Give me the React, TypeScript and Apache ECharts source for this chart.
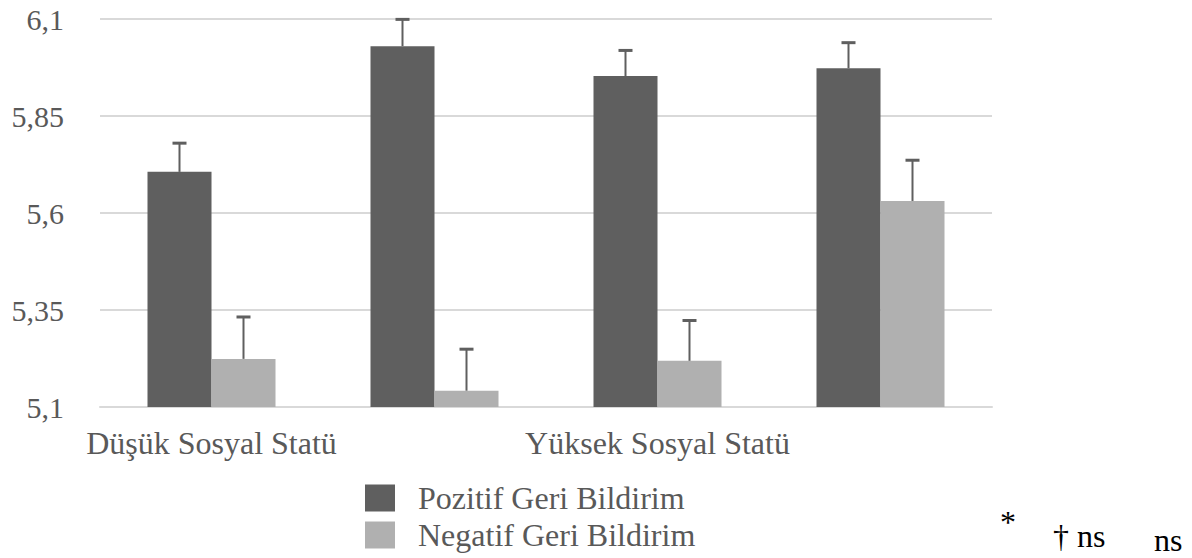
import React, { useEffect, useRef } from "react";
import * as echarts from "echarts";

// ---- data ----
const CATEGORY_KEYS = ["dusuk-a", "dusuk-b", "yuksek-a", "yuksek-b"];
const CATEGORY_LABELS = ["Düşük Sosyal Statü", "", "Yüksek Sosyal Statü", ""];
const SERIES_NAMES = ["Pozitif Geri Bildirim", "Negatif Geri Bildirim"];
const POZITIF_MEANS = [5.706, 6.03, 5.953, 5.973];
const POZITIF_ERRORS = [0.074, 0.069, 0.066, 0.066];
const NEGATIF_MEANS = [5.224, 5.142, 5.219, 5.631];
const NEGATIF_ERRORS = [0.108, 0.107, 0.104, 0.105];
const Y_TICKS = [5.1, 5.35, 5.6, 5.85, 6.1];
const Y_TICK_LABELS = ["5,1", "5,35", "5,6", "5,85", "6,1"];
const NOTE_TEXTS = ["*", "† ns", "ns"];

const FONT = "'Liberation Serif', 'Times New Roman', serif";
const TEXT_COLOR = "#595959";
const DARK = "#5f5f5f";
const LIGHT = "#b0b0b0";
const GRID_COLOR = "#d9d9d9";
const BAR_FRAC = 0.287;

function errorSeries(name: string, means: number[], errs: number[], side: number) {
  return {
    type: "custom",
    name: name + " hata",
    z: 5,
    encode: { x: 0, y: 1 },
    data: means.map((m, i) => [i, m, errs[i]]),
    renderItem: (params: any, api: any) => {
      const idx = api.value(0);
      const mean = api.value(1);
      const err = api.value(2);
      const base = api.coord([idx, mean]);
      const top = api.coord([idx, mean + err]);
      const band = api.size([1, 0])[0];
      const cx = base[0] + (side * band * BAR_FRAC) / 2;
      return {
        type: "group",
        children: [
          {
            type: "line",
            shape: { x1: cx, y1: base[1], x2: cx, y2: top[1] },
            style: { stroke: DARK, lineWidth: 2 },
          },
          {
            type: "line",
            shape: { x1: cx - 7, y1: top[1], x2: cx + 7, y2: top[1] },
            style: { stroke: DARK, lineWidth: 3 },
          },
        ],
      };
    },
  };
}

export default function App() {
  const ref = useRef<HTMLDivElement>(null);
  useEffect(() => {
    if (!ref.current) return;
    const chart = echarts.init(ref.current, undefined, { renderer: "svg" });
    chart.setOption({
      animation: false,
      backgroundColor: "#ffffff",
      grid: { left: 100, right: 200, top: 19, bottom: 151, containLabel: false },
      legend: {
        data: SERIES_NAMES,
        orient: "vertical",
        left: 365,
        top: 482,
        itemWidth: 30,
        itemHeight: 27,
        itemGap: 5,
        icon: "rect",
        padding: 0,
        selectedMode: false,
        textStyle: {
          fontFamily: FONT,
          fontSize: 32,
          color: TEXT_COLOR,
          padding: [0, 0, 0, 18],
        },
      },
      xAxis: {
        type: "category",
        data: CATEGORY_KEYS,
        axisLine: { show: true, lineStyle: { color: GRID_COLOR, width: 2 } },
        axisTick: { show: false },
        axisLabel: {
          interval: 0,
          margin: 20,
          fontFamily: FONT,
          fontSize: 32,
          color: TEXT_COLOR,
          formatter: (_v: string, i: number) => CATEGORY_LABELS[i],
        },
      },
      yAxis: {
        type: "value",
        min: Y_TICKS[0],
        max: Y_TICKS[Y_TICKS.length - 1],
        axisLine: { show: false },
        axisTick: { show: false, customValues: Y_TICKS },
        splitLine: { show: true, lineStyle: { color: GRID_COLOR, width: 2 } },
        axisLabel: {
          customValues: Y_TICKS,
          margin: 36,
          fontFamily: FONT,
          fontSize: 30,
          color: TEXT_COLOR,
          formatter: (v: number) => {
            let best = 0;
            Y_TICKS.forEach((t, i) => {
              if (Math.abs(t - v) < Math.abs(Y_TICKS[best] - v)) best = i;
            });
            return Y_TICK_LABELS[best];
          },
        },
      },
      series: [
        {
          type: "bar",
          name: SERIES_NAMES[0],
          data: POZITIF_MEANS,
          barWidth: BAR_FRAC * 100 + "%",
          barGap: "0%",
          itemStyle: { color: DARK },
        },
        {
          type: "bar",
          name: SERIES_NAMES[1],
          data: NEGATIF_MEANS,
          barWidth: BAR_FRAC * 100 + "%",
          barGap: "0%",
          itemStyle: { color: LIGHT },
        },
        errorSeries(SERIES_NAMES[0], POZITIF_MEANS, POZITIF_ERRORS, -1),
        errorSeries(SERIES_NAMES[1], NEGATIF_MEANS, NEGATIF_ERRORS, 1),
      ],
      graphic: [
        {
          type: "text",
          left: 1000,
          top: 506,
          style: { text: NOTE_TEXTS[0], fontFamily: FONT, fontSize: 32, fill: "#000" },
        },
        {
          type: "text",
          left: 1053,
          top: 520,
          style: { text: NOTE_TEXTS[1], fontFamily: FONT, fontSize: 32, fill: "#000" },
        },
        {
          type: "text",
          left: 1154,
          top: 524,
          style: { text: NOTE_TEXTS[2], fontFamily: FONT, fontSize: 32, fill: "#000" },
        },
      ],
    });
    return () => chart.dispose();
  }, []);
  return (
    <div
      ref={ref}
      style={{ position: "fixed", left: 0, top: 0, width: 1192, height: 558 }}
    />
  );
}
